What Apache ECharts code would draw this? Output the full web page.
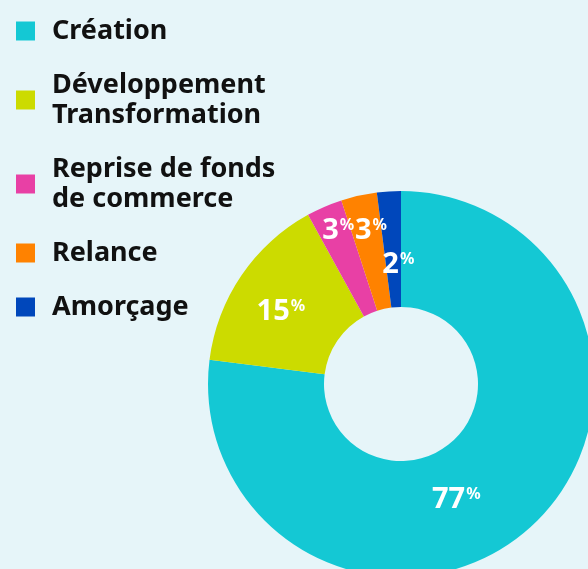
<!DOCTYPE html>
<html>
<head>
<meta charset="utf-8">
<script src="https://cdn.jsdelivr.net/npm/echarts@6/dist/echarts.min.js"></script>
<style>
  html, body { margin: 0; padding: 0; background: #e6f5f9; }
  #chart { width: 588px; height: 569px; }
</style>
</head>
<body>
<div id="chart"></div>
<script>
// catégories et parts (%)
var categories = ["Création", "Développement\nTransformation", "Reprise de fonds\nde commerce", "Relance", "Amorçage"];
var shares = [77, 15, 3, 3, 2];
var colors = ["#14c8d4", "#ccdb00", "#e840a5", "#ff8200", "#0047bb"];

// décalage des étiquettes par rapport à la position "inside"
var labelShift = [[-36, 12], [-6, 5], [-8, -27], [0, -19], [6, 18]];

var chart = echarts.init(document.getElementById("chart"));

var option = {
  backgroundColor: "#e6f5f9",
  color: colors,
  legend: {
    orient: "vertical",
    left: 11,
    top: 11,
    itemWidth: 19,
    itemHeight: 19,
    itemGap: 24,
    icon: "rect",
    selectedMode: false,
    textStyle: {
      fontFamily: "Noto Sans",
      fontWeight: "bold",
      fontSize: 27,
      lineHeight: 30,
      color: "#111",
      padding: [0, 0, 0, 12]
    },
    data: categories
  },
  series: [
    {
      type: "pie",
      center: [401, 384],
      radius: [77, 193],
      startAngle: 90,
      clockwise: true,
      avoidLabelOverlap: false,
      silent: true,
      label: {
        position: "inside",
        formatter: function (p) {
          return "{n|" + p.value + "}{p|%}";
        },
        rich: {
          n: {
            fontFamily: "Noto Sans",
            fontWeight: "bold",
            fontSize: 29,
            color: "#fff"
          },
          p: {
            fontFamily: "Noto Sans",
            fontWeight: "bold",
            fontSize: 16,
            color: "#fff",
            padding: [0, 0, 10, 1]
          }
        }
      },
      labelLine: { show: false },
      labelLayout: function (params) {
        var s = labelShift[params.dataIndex];
        return { dx: s[0], dy: s[1] };
      },
      data: categories.map(function (c, i) {
        return { name: c, value: shares[i] };
      })
    }
  ]
};

chart.setOption(option);
</script>
</body>
</html>
